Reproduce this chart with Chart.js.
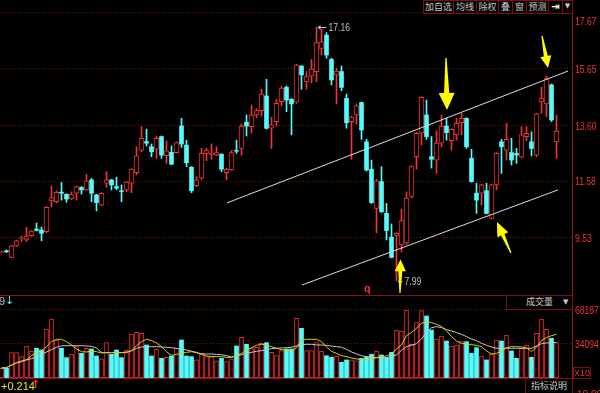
<!DOCTYPE html>
<html>
<head>
<meta charset="utf-8">
<script src="https://cdn.jsdelivr.net/npm/chart.js"></script>
<style>
  body { margin: 0; background: #000; overflow: hidden; }
  #wrap { position: relative; width: 600px; height: 393px; background: #000; overflow: hidden; }
  canvas { position: absolute; left: 0; }
  .ln { position: absolute; background: #8a1212; }
  .box { position: absolute; box-sizing: border-box; border: 1px solid #7a1010; background: #000;
         color: #c8c8c8; text-align: center; white-space: nowrap; overflow: hidden;
         font: 9px/11px "Noto Sans CJK SC", sans-serif; }
  .txt { position: absolute; white-space: nowrap; font: 11px/12px "Liberation Sans", sans-serif; }
</style>
</head>
<body>
<div id="wrap">
  <canvas id="main" width="600" height="294" style="top:0"></canvas>
  <canvas id="vol" width="600" height="83" style="top:295px"></canvas>

  <!-- frame lines -->
  <div class="ln" style="left:572px;top:0;width:1px;height:393px;background:#a01818"></div>
  <div class="ln" style="left:0;top:295px;width:572px;height:1px"></div>
  <div class="ln" style="left:0;top:378px;width:572px;height:1px"></div>

  <!-- toolbar -->
  <div class="box" style="left:423px;top:0;width:31px;height:14px">加自选</div>
  <div class="box" style="left:453px;top:0;width:24px;height:14px">均线</div>
  <div class="box" style="left:476px;top:0;width:23px;height:14px">除权</div>
  <div class="box" style="left:498px;top:0;width:15px;height:14px">叠</div>
  <div class="box" style="left:512px;top:0;width:15px;height:14px">窗</div>
  <div class="box" style="left:526px;top:0;width:23px;height:14px">预测</div>
  <div class="box" style="left:548px;top:0;width:15px;height:14px;color:#fff;font:bold 10px/11px 'DejaVu Sans',sans-serif">⇥</div>
  <div class="box" style="left:562px;top:0;width:11px;height:14px;font:7px/11px 'DejaVu Sans',sans-serif">▼</div>

  <!-- volume panel texts -->
  <div class="box" style="left:506px;top:295px;width:67px;height:15px;text-align:left;padding-left:19px;font-size:9px;line-height:12px">成交量<span style="position:absolute;left:56px;top:1px;font:7px/10px 'DejaVu Sans',sans-serif">▼</span></div>
  <div class="txt" style="left:-1px;top:295px;color:#c0c0c0">9</div>
  <div class="txt" style="left:5px;top:295px;color:#54fcfc;font-family:'DejaVu Sans'">↓</div>
  <div class="box" style="left:573px;top:367px;width:18px;height:12px;color:#e83434;font:9px/10px 'Liberation Sans',sans-serif">X10</div>
  <div class="txt" style="left:1px;top:380px;color:#e6e600">+0.214</div>
  <div class="txt" style="left:31px;top:379px;color:#ff3030;font-family:'DejaVu Sans';font-weight:bold">↑</div>
  <div class="box" style="left:525px;top:378px;width:48px;height:16px;font-size:9px;line-height:13px">指标说明</div>
  <div class="txt" style="left:577px;top:389px;color:#e83434;font-size:10px">10.002</div>
  <div class="txt" style="left:364px;top:282px;color:#e83434;font-weight:bold;font-size:11px">q</div>
</div>

<script>
// ---- candle data (left to right) ----
const opens = [9.00, 9.07, 8.83, 9.24, 9.50, 9.48, 9.61, 9.85, 9.82, 9.76,
  10.87, 10.84, 11.19, 11.11, 10.94, 11.15, 11.36, 11.27, 11.63, 11.09,
  10.72, 11.51, 11.63, 11.39, 11.24, 11.27, 11.51, 11.89, 12.71, 13.02,
  12.83, 12.74, 13.20, 12.51, 12.63, 12.62, 13.58, 12.89, 12.09, 11.42,
  11.69, 12.59, 12.55, 12.53, 12.56, 11.89, 11.99, 12.70, 12.77, 13.72,
  13.56, 13.98, 14.14, 14.67, 13.50, 13.74, 14.46, 14.98, 14.55, 14.44,
  15.75, 15.18, 15.39, 15.55, 16.39, 16.87, 15.99, 15.43, 15.55, 14.58,
  13.74, 13.98, 14.43, 13.01, 12.02, 10.60, 11.57, 10.42, 9.56, 9.62,
  9.28, 9.34, 11.03, 12.47, 13.32, 13.98, 12.47, 12.35, 12.96, 13.58,
  13.05, 13.26, 13.70, 13.86, 12.41, 11.15, 11.15, 11.24, 10.24, 11.45,
  13.01, 12.71, 12.62, 12.59, 12.45, 13.20, 13.01, 12.53, 14.45, 14.38,
  15.07, 13.01];
const closes = [9.04, 9.03, 9.25, 9.43, 9.54, 9.58, 9.78, 9.81, 9.70, 10.64,
  10.99, 11.18, 11.15, 10.94, 11.12, 11.39, 11.27, 11.59, 11.15, 10.81,
  11.15, 11.63, 11.45, 11.33, 11.21, 11.55, 12.02, 12.50, 13.14, 12.96,
  12.65, 13.14, 12.53, 12.68, 12.20, 12.98, 12.93, 12.25, 11.24, 11.63,
  12.59, 12.69, 12.59, 12.62, 12.02, 12.02, 12.62, 12.67, 13.58, 13.58,
  13.98, 14.14, 14.74, 13.50, 13.62, 14.40, 14.95, 14.52, 14.38, 15.79,
  15.43, 15.37, 15.64, 16.60, 16.63, 16.15, 15.25, 15.57, 14.98, 13.70,
  13.90, 14.31, 13.44, 11.99, 10.81, 11.60, 10.48, 9.80, 8.83, 9.70,
  10.16, 10.97, 12.11, 13.32, 14.62, 13.20, 12.38, 12.96, 13.58, 13.34,
  13.46, 13.68, 13.86, 12.83, 11.57, 10.90, 11.45, 10.42, 11.45, 12.59,
  12.83, 13.10, 12.35, 12.53, 13.26, 13.32, 12.77, 14.02, 14.57, 15.30,
  13.80, 13.40];
const highs = [9.06, 9.10, 9.27, 9.45, 9.60, 9.92, 9.80, 10.07, 9.93, 10.66,
  11.41, 11.23, 11.54, 11.13, 11.20, 11.41, 11.39, 11.83, 11.69, 11.11,
  11.17, 11.93, 11.65, 11.73, 11.45, 11.57, 12.04, 12.83, 13.56, 13.47,
  12.93, 13.22, 13.22, 13.04, 12.86, 13.00, 13.86, 13.07, 12.11, 11.75,
  12.77, 12.77, 12.93, 12.83, 12.58, 12.05, 12.69, 13.07, 13.65, 13.98,
  14.34, 14.20, 14.91, 15.27, 13.90, 14.55, 15.03, 15.03, 14.57, 15.82,
  15.77, 15.55, 15.99, 17.16, 17.08, 16.96, 16.03, 15.67, 15.75, 14.74,
  13.94, 14.38, 14.45, 13.10, 12.35, 11.65, 12.11, 10.78, 10.04, 9.72,
  10.57, 11.20, 12.14, 13.35, 14.64, 14.52, 13.20, 13.41, 13.98, 13.86,
  13.48, 13.86, 14.04, 13.88, 12.74, 11.51, 11.47, 11.51, 11.48, 12.62,
  13.10, 13.68, 13.14, 12.77, 13.56, 13.56, 13.37, 14.04, 14.98, 15.39,
  15.10, 13.98];
const lows = [8.98, 9.00, 8.81, 9.22, 9.40, 9.40, 9.59, 9.78, 9.43, 9.72,
  10.66, 10.80, 10.90, 10.82, 10.92, 10.90, 11.12, 11.25, 10.84, 10.51,
  10.70, 11.36, 11.27, 11.27, 10.84, 11.20, 11.17, 11.81, 12.65, 12.86,
  12.47, 12.41, 12.41, 12.23, 12.18, 12.60, 12.81, 12.11, 11.17, 11.40,
  11.65, 12.33, 12.38, 12.50, 11.93, 11.63, 11.97, 12.59, 12.53, 13.22,
  13.32, 13.88, 13.94, 13.47, 12.77, 13.58, 14.31, 14.10, 13.26, 14.40,
  14.91, 14.91, 15.15, 15.18, 16.15, 16.03, 15.07, 14.38, 14.86, 13.50,
  12.38, 13.65, 13.10, 11.95, 10.78, 9.72, 10.45, 9.46, 8.81, 7.99,
  9.03, 9.30, 10.98, 12.02, 12.90, 13.10, 12.06, 11.87, 12.83, 13.07,
  12.71, 13.07, 13.26, 12.77, 11.55, 10.42, 10.72, 10.40, 10.22, 11.27,
  11.87, 12.35, 12.17, 12.23, 12.43, 13.05, 12.50, 12.47, 14.04, 13.92,
  13.74, 12.41];

// ---- volume and its moving averages ----
const volumes = [9700, 9700, 25400, 25400, 21400, 32100, 27100, 29800, 28100, 49100,
  59200, 38100, 29800, 20400, 24100, 31400, 24700, 29800, 29100, 22100,
  19100, 35400, 23700, 28100, 20400, 28100, 44100, 45800, 44800, 33100,
  22100, 28800, 19700, 20700, 22100, 29800, 38100, 22100, 21400, 18100,
  24700, 21400, 21400, 17100, 19700, 16400, 19100, 32100, 40800, 33800,
  29800, 30800, 34800, 35400, 25700, 22400, 27400, 29100, 29100, 59900,
  49800, 27400, 27400, 35400, 27100, 22400, 20700, 22100, 15700, 18100,
  18100, 17100, 19700, 21400, 23700, 27100, 23100, 20400, 25700, 48100,
  47100, 68187, 33800, 55500, 67500, 62200, 48100, 39100, 42100, 37100,
  32100, 33100, 36400, 36400, 24700, 30400, 22100, 18100, 23700, 38100,
  37100, 43100, 27100, 19700, 29800, 33100, 20700, 44800, 59200, 48800,
  39800, 35400];
const volMa5 = [9700, 10400, 13000, 15400, 17100, 18400, 22400, 25400, 27400, 31400,
  36400, 38800, 38800, 36400, 33100, 29100, 26400, 26100, 27100, 26400,
  25100, 25400, 25400, 25400, 25400, 26100, 27100, 32400, 36400, 38800,
  37500, 35100, 31400, 26400, 22700, 23700, 24700, 25700, 26400, 25400,
  23700, 22100, 21400, 21400, 21400, 20700, 20700, 22400, 24700, 28100,
  30400, 32800, 33800, 33100, 31400, 29800, 28400, 27800, 27100, 30400,
  38100, 38800, 38800, 38800, 36400, 31100, 26800, 24700, 22400, 21400,
  20100, 19100, 18400, 18100, 19100, 20400, 21400, 22100, 24700, 29100,
  33100, 42500, 45800, 49800, 54800, 56500, 55500, 53800, 51800, 47100,
  41500, 37100, 34800, 34100, 33400, 32800, 31400, 27100, 24100, 24700,
  27100, 30400, 31400, 31400, 31100, 30400, 26400, 30800, 37500, 40500,
  42500, 43800];
const volMa10 = [10400, 10400, 13000, 15000, 16400, 18100, 19400, 21100, 23700, 26100,
  28400, 30800, 32400, 32400, 32400, 32400, 32400, 32100, 31800, 30100,
  25700, 25400, 25400, 25400, 25400, 25400, 27400, 29800, 31100, 31400,
  31400, 31400, 31100, 30800, 30400, 29800, 28800, 28100, 26800, 25700,
  24100, 24100, 24100, 23700, 23400, 22400, 21100, 21700, 23400, 24700,
  25700, 26800, 27400, 28400, 29400, 29800, 30100, 30400, 30800, 32100,
  33400, 33800, 33800, 33100, 33100, 32800, 32100, 31400, 30800, 28800,
  26100, 24100, 22400, 21400, 20400, 20400, 20400, 20400, 21700, 23100,
  27800, 31400, 32800, 34400, 39100, 45800, 50500, 51500, 50500, 48500,
  47100, 45500, 43800, 41500, 39100, 37500, 34800, 32800, 31100, 29800,
  29800, 29800, 29800, 29800, 29800, 29800, 29800, 32100, 34400, 35100,
  35400, 35800];

// ---- axis tick values ----
const priceTicks = [17.67, 15.65, 13.60, 11.58, 9.53];
const volTicks = [68187, 34094];

// ---- drawn channel (index, price) ----
const upperTrend = [{x: 45.1, y: 10.80}, {x: 113.3, y: 15.57}];
const lowerTrend = [{x: 60.1, y: 7.83}, {x: 111.3, y: 11.27}];

// ---- yellow marker arrows: tip and tail in (index, price) ----
const arrowTipX  = [89.1, 109.3, 99.1, 79.8];
const arrowTipY  = [14.16, 15.68, 10.11, 8.76];
const arrowTailX = [88.9, 108.1, 101.9, 79.7];
const arrowTailY = [16.04, 16.84, 8.99, 7.54];
const arrowHead  = [[16, 17, 2.6], [11, 12, 2.0], [12, 14, 1.8], [11, 12, 2.0]];

const RED = '#f03434';
const CYAN = '#54fcfc';
const GRID = '#7a1010';
const NUM_FONT = '11px "Liberation Sans", sans-serif';

const idx = opens.map((_, i) => i);
const isUp = idx.map(i => closes[i] >= opens[i]);

const xScale = { type: 'linear', min: -0.3, max: 114.1, offset: false, display: false };

function rightAxis(min, max, ticks) {
  return {
    position: 'right', min: min, max: max,
    afterFit: s => { s.width = 28; },
    afterBuildTicks: s => { s.ticks = ticks.map(v => ({ value: v })); },
    ticks: { display: false },
    grid: { color: GRID, drawTicks: false, lineWidth: 1 },
    border: { display: false, dash: [1, 2] }
  };
}

// narrow numeric text like the terminal's bitmap font
function numText(ctx, s, x, y) {
  ctx.save();
  ctx.translate(x, y);
  ctx.scale(0.78, 1);
  ctx.fillText(s, 0, 0);
  ctx.restore();
}

function drawArrow(ctx, tx, ty, sx, sy, headW, headL, w1) {
  const dx = tx - sx, dy = ty - sy, len = Math.hypot(dx, dy);
  const ux = dx / len, uy = dy / len, nx = -uy, ny = ux;
  const bx = tx - ux * headL, by = ty - uy * headL;
  const w0 = 0.6, hw = headW / 2;
  ctx.beginPath();
  ctx.moveTo(sx + nx * w0, sy + ny * w0);
  ctx.lineTo(bx + nx * w1, by + ny * w1);
  ctx.lineTo(bx + nx * hw, by + ny * hw);
  ctx.lineTo(tx, ty);
  ctx.lineTo(bx - nx * hw, by - ny * hw);
  ctx.lineTo(bx - nx * w1, by - ny * w1);
  ctx.lineTo(sx - nx * w0, sy - ny * w0);
  ctx.closePath();
  ctx.fill();
}

// labels, high/low marks and arrows on the price chart
const priceDeco = {
  id: 'priceDeco',
  afterDatasetsDraw(chart) {
    const ctx = chart.ctx, xs = chart.scales.x, ys = chart.scales.y;
    ctx.save();
    ctx.font = NUM_FONT;
    ctx.textBaseline = 'middle';
    ctx.fillStyle = RED;
    priceTicks.forEach((v, i) => {
      const y = ys.getPixelForValue(v) + (i === 0 ? 9 : 1);
      numText(ctx, v.toFixed(2), chart.chartArea.right + 3, y);
    });

    // highest and lowest price marks
    ctx.fillStyle = '#c0c0c0';
    ctx.strokeStyle = '#c0c0c0';
    ctx.lineWidth = 1;
    const hi = highs.indexOf(Math.max(...highs));
    const lo = lows.indexOf(Math.min(...lows));
    [[hi, highs[hi], 10], [lo, lows[lo], 6]].forEach(([i, v, len]) => {
      const px = xs.getPixelForValue(i), py = Math.round(ys.getPixelForValue(v)) + 0.5;
      ctx.beginPath();
      ctx.moveTo(px + 2, py); ctx.lineTo(px + len, py); ctx.stroke();
      ctx.beginPath();
      ctx.moveTo(px + 1, py); ctx.lineTo(px + 4, py - 2.5); ctx.lineTo(px + 4, py + 2.5);
      ctx.closePath(); ctx.fill();
      numText(ctx, v.toFixed(2), px + len + 2, py);
    });

    ctx.fillStyle = '#ffff00';
    arrowTipX.forEach((_, k) => {
      drawArrow(ctx,
        xs.getPixelForValue(arrowTipX[k]), ys.getPixelForValue(arrowTipY[k]),
        xs.getPixelForValue(arrowTailX[k]), ys.getPixelForValue(arrowTailY[k]),
        arrowHead[k][0], arrowHead[k][1], arrowHead[k][2]);
    });
    ctx.restore();
  }
};

const volLabels = {
  id: 'volLabels',
  afterDatasetsDraw(chart) {
    const ctx = chart.ctx, ys = chart.scales.y;
    ctx.save();
    ctx.font = NUM_FONT;
    ctx.textBaseline = 'middle';
    ctx.fillStyle = RED;
    volTicks.forEach(v => {
      numText(ctx, String(v), chart.chartArea.right + 3, ys.getPixelForValue(v) + 1);
    });
    ctx.restore();
  }
};

new Chart(document.getElementById('main'), {
  type: 'bar',
  data: {
    datasets: [
      {
        data: idx.map(i => ({ x: i, y: [lows[i], highs[i]] })),
        backgroundColor: idx.map(i => isUp[i] ? RED : CYAN),
        barThickness: 1, grouped: false, order: 4
      },
      {
        data: idx.filter(i => isUp[i]).map(i => ({ x: i, y: [opens[i], closes[i]] })),
        backgroundColor: '#000', borderColor: RED, borderWidth: 1, borderSkipped: false,
        barThickness: 5, grouped: false, order: 3
      },
      {
        data: idx.filter(i => !isUp[i]).map(i => ({ x: i, y: [closes[i], opens[i]] })),
        backgroundColor: CYAN, borderWidth: 0,
        barThickness: 4, grouped: false, order: 3
      },
      {
        type: 'line', data: upperTrend, borderColor: '#dcdcdc', borderWidth: 1,
        pointRadius: 0, order: 1
      },
      {
        type: 'line', data: lowerTrend, borderColor: '#dcdcdc', borderWidth: 1,
        pointRadius: 0, order: 1
      }
    ]
  },
  options: {
    responsive: false, animation: false, events: [],
    layout: { padding: 0 },
    plugins: { legend: { display: false }, tooltip: { enabled: false } },
    scales: { x: xScale, y: rightAxis(7.504, 18.14, priceTicks) }
  },
  plugins: [priceDeco]
});

new Chart(document.getElementById('vol'), {
  type: 'bar',
  data: {
    datasets: [
      {
        data: idx.filter(i => isUp[i]).map(i => ({ x: i, y: volumes[i] })),
        backgroundColor: '#000', borderColor: RED, borderWidth: 1, borderSkipped: false,
        barThickness: 4, grouped: false, order: 3
      },
      {
        data: idx.filter(i => !isUp[i]).map(i => ({ x: i, y: volumes[i] })),
        backgroundColor: CYAN, borderWidth: 0,
        barThickness: 4, grouped: false, order: 3
      },
      {
        type: 'line', data: idx.map(i => ({ x: i, y: volMa10[i] })),
        borderColor: '#c8c8c8', borderWidth: 1, pointRadius: 0, order: 2
      },
      {
        type: 'line', data: idx.map(i => ({ x: i, y: volMa5[i] })),
        borderColor: '#d4d400', borderWidth: 1, pointRadius: 0, order: 1
      }
    ]
  },
  options: {
    responsive: false, animation: false, events: [],
    layout: { padding: 0 },
    plugins: { legend: { display: false }, tooltip: { enabled: false } },
    scales: { x: xScale, y: rightAxis(0, 83228, volTicks) }
  },
  plugins: [volLabels]
});
</script>
</body>
</html>
